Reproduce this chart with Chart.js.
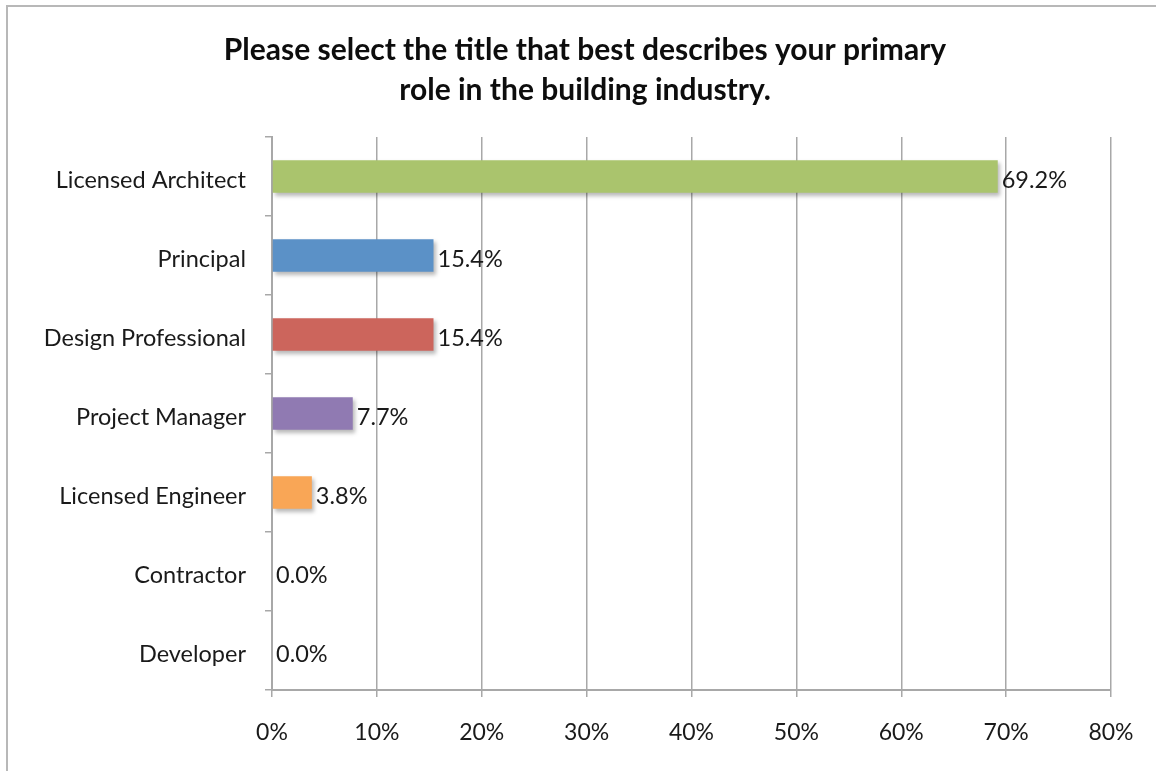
<!DOCTYPE html>
<html>
<head>
<meta charset="utf-8">
<script src="https://cdn.jsdelivr.net/npm/chart.js@4"></script>
<style>
	html, body { margin: 0; padding: 0; background: #fff; }
	#frame { position: absolute; left: 6px; top: 5px; width: 1200px; height: 800px;
		border-left: 2px solid #b8b8b8; border-top: 2px solid #b8b8b8; }
	#bar-chart { position: absolute; left: 0; top: 0; }
</style>
</head>
<body>
<div id="frame"></div>
<canvas id="bar-chart" width="1156" height="771"></canvas>
<script>
// survey answers, top to bottom
var roles = ["Licensed Architect", "Principal", "Design Professional", "Project Manager", "Licensed Engineer", "Contractor", "Developer"];
var share = [69.2, 15.4, 15.4, 7.7, 3.8, 0.0, 0.0];
var barColors = ["#aac46d", "#5b91c7", "#cc655c", "#907ab2", "#f9a656", "#5b91c7", "#5b91c7"];
var xTicks = [0, 10, 20, 30, 40, 50, 60, 70, 80];
var titleLines = ["Please select the title that best describes your primary", "role in the building industry."];

var fontName = "Lato, 'Open Sans', sans-serif";
var gridGray = "#a8a8a8";

// value labels at the bar ends + a small drop shadow like excel
var barLabels = {
	id: 'barLabels',
	beforeDatasetsDraw: function (chart) {
		var ctx = chart.ctx;
		ctx.save();
		ctx.shadowColor = "rgba(0,0,0,0.28)";
		ctx.shadowBlur = 4;
		ctx.shadowOffsetX = 2;
		ctx.shadowOffsetY = 3;
	},
	afterDatasetsDraw: function (chart) {
		var ctx = chart.ctx;
		ctx.restore();
		ctx.save();
		ctx.font = "23.5px " + fontName;
		ctx.fillStyle = "#1a1a1a";
		ctx.textAlign = "left";
		ctx.textBaseline = "middle";
		var meta = chart.getDatasetMeta(0);
		meta.data.forEach(function (bar, i) {
			ctx.fillText(share[i].toFixed(1) + "%", bar.x + 4, bar.y + 4);
		});
		ctx.restore();
	}
};

// title centred on the whole frame, not the plot
var frameTitle = {
	id: 'frameTitle',
	afterDraw: function (chart) {
		var ctx = chart.ctx;
		ctx.save();
		ctx.font = "bold 30px " + fontName;
		ctx.fillStyle = "#0d0d0d";
		ctx.textAlign = "center";
		ctx.textBaseline = "middle";
		var cx = chart.width / 2 + 7;
		titleLines.forEach(function (t, i) {
			ctx.fillText(t, cx, 50 + i * 40);
		});
		ctx.restore();
	}
};

new Chart(document.getElementById("bar-chart"), {
	type: 'bar',
	data: {
		labels: roles,
		datasets: [{
			data: share,
			backgroundColor: barColors,
			borderWidth: 0,
			barPercentage: 0.41,
			categoryPercentage: 1.0
		}]
	},
	options: {
		indexAxis: 'y',
		responsive: false,
		animation: false,
		layout: { padding: { left: 0, right: 45, top: 137, bottom: 0 } },
		plugins: {
			legend: { display: false },
			tooltip: { enabled: false },
			title: { display: false }
		},
		scales: {
			x: {
				min: 0,
				max: 80,
				afterBuildTicks: function (axis) {
					axis.ticks = xTicks.map(function (v) { return { value: v }; });
				},
				afterFit: function (axis) { axis.height = 81; },
				ticks: {
					callback: function (v) { return v + "%"; },
					color: "#1a1a1a",
					font: { family: fontName, size: 23 },
					padding: 22,
					maxRotation: 0
				},
				grid: { color: gridGray, lineWidth: 1.5, tickLength: 7, drawTicks: true },
				border: { color: gridGray, width: 2 }
			},
			y: {
				afterFit: function (axis) { axis.width = 272; },
				ticks: {
					color: "#1a1a1a",
					font: { family: fontName, size: 23.5 },
					padding: 19,
					labelOffset: 4
				},
				grid: { offset: true, drawOnChartArea: false, color: gridGray, lineWidth: 1.5, tickLength: 7 },
				border: { color: gridGray, width: 2 }
			}
		}
	},
	plugins: [barLabels, frameTitle]
});
</script>
</body>
</html>
